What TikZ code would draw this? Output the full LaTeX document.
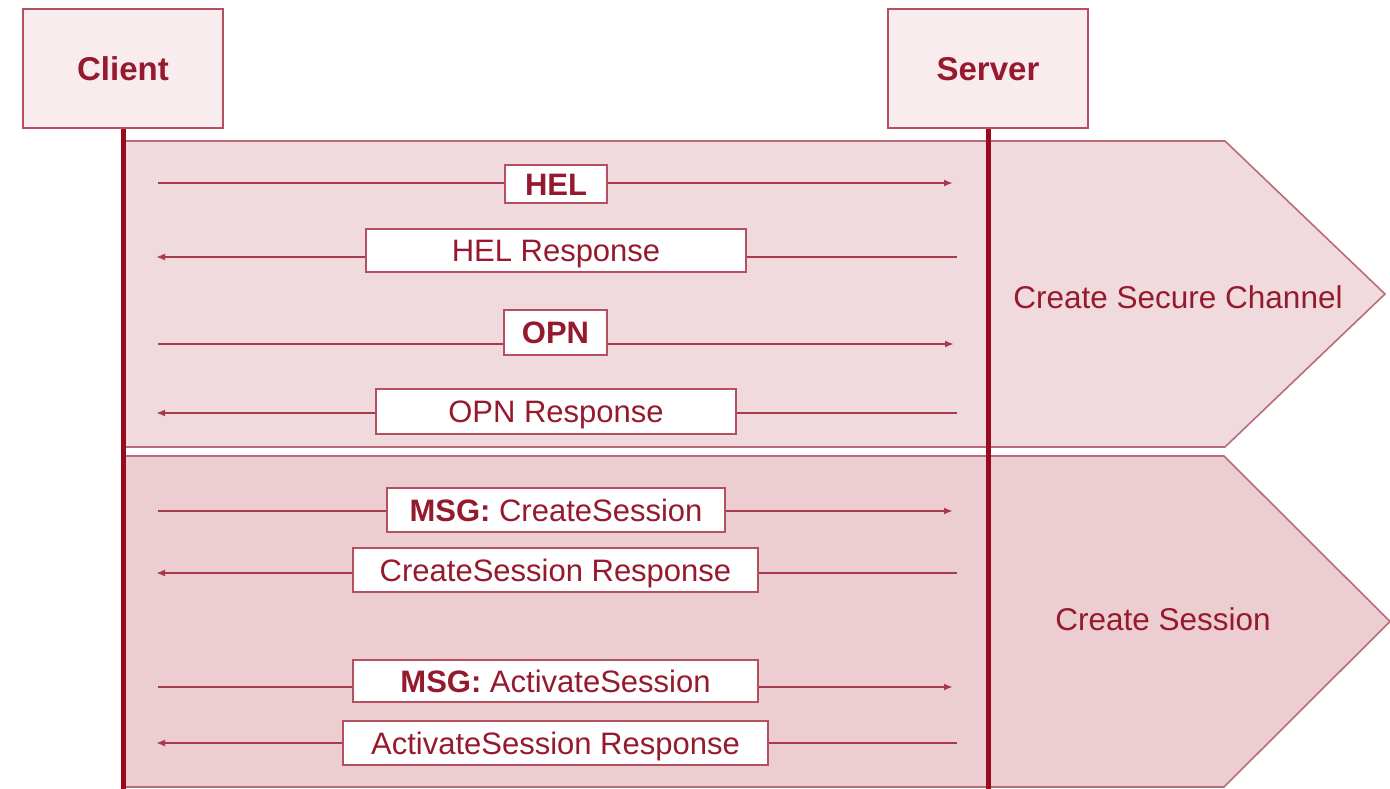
\documentclass[tikz,border=0pt]{standalone}
\usepackage{fontspec}
\setmainfont{Liberation Sans}
\usetikzlibrary{arrows.meta}

\definecolor{ink}{HTML}{961A2E}
\definecolor{life}{HTML}{9A0A1F}
\definecolor{wire}{HTML}{A83A4E}
\definecolor{edge}{HTML}{B4505F}
\definecolor{headfill}{HTML}{F9ECEE}
\definecolor{phaseA}{HTML}{F1DADE}
\definecolor{phaseB}{HTML}{ECCDD2}
\definecolor{phaseline}{HTML}{B86C78}

\tikzset{
  head/.style={draw=edge, line width=1.4pt, fill=headfill, minimum width=200pt,
    minimum height=119pt, inner sep=0pt, text=ink, text height=23.6pt, text depth=0pt,
    font=\fontsize{33}{38}\selectfont\bfseries},
  lifeline/.style={draw=life, line width=5pt},
  msgline/.style={draw=wire, line width=1.8pt},
  tohere/.style={msgline, -{Latex[length=9pt,width=7pt]}},
  label/.style={draw=edge, line width=1.8pt, fill=white, inner sep=0pt,
    text height=22.2pt, text depth=0pt,
    text=ink, font=\fontsize{31}{36}\selectfont},
  phase/.style={draw=phaseline, line width=1.6pt, line join=miter},
  phasetext/.style={text=ink, text height=22.5pt, text depth=0pt,
    font=\fontsize{31.5}{36}\selectfont},
}

\begin{document}
\begin{tikzpicture}[x=1pt, y=-1pt]
\useasboundingbox (0,0) rectangle (1390,789);

% phase chevrons
\path[phase, fill=phaseA] (125,141) -- (1225,141) -- (1385,294) -- (1225,447) -- (125,447) -- cycle;
\path[phase, fill=phaseB] (125,456) -- (1224,456) -- (1390,621.5) -- (1224,787) -- (125,787) -- cycle;

% participants and lifelines
\node[head] (client) at (123,68.5) {Client};
\node[head] (server) at (988,68.5) {Server};
\coordinate (clientEnd) at (123,789);
\coordinate (serverEnd) at (988,789);
\draw[lifeline] (client.south) -- (clientEnd);
\draw[lifeline] (server.south) -- (serverEnd);

% message end points
\coordinate (a1) at (158,183);   \coordinate (b1) at (953,183);
\coordinate (a2) at (156,257);   \coordinate (b2) at (957,257);
\coordinate (a3) at (158,344);   \coordinate (b3) at (954,344);
\coordinate (a4) at (156,413);   \coordinate (b4) at (957,413);
\coordinate (a5) at (158,511);   \coordinate (b5) at (953,511);
\coordinate (a6) at (156,573);   \coordinate (b6) at (957,573);
\coordinate (a7) at (158,687);   \coordinate (b7) at (953,687);
\coordinate (a8) at (156,743);   \coordinate (b8) at (957,743);

% messages
\draw[tohere] (a1) -- (b1);
\draw[tohere] (b2) -- (a2);
\draw[tohere] (a3) -- (b3);
\draw[tohere] (b4) -- (a4);
\draw[tohere] (a5) -- (b5);
\draw[tohere] (b6) -- (a6);
\draw[tohere] (a7) -- (b7);
\draw[tohere] (b8) -- (a8);

% message labels
\node[label, minimum width=102pt, minimum height=38pt] (hel) at (556,184) {\bfseries HEL};
\node[label, minimum width=380pt, minimum height=43pt] (helr) at (556,250.5) {HEL Response};
\node[label, minimum width=103pt, minimum height=45pt] (opn) at (555.5,332.5) {\bfseries OPN};
\node[label, minimum width=360pt, minimum height=45pt] (opnr) at (556,411.5) {OPN Response};
\node[label, minimum width=338pt, minimum height=44pt] (cs) at (556,510) {\textbf{MSG:} CreateSession};
\node[label, minimum width=405pt, minimum height=44pt] (csr) at (555.5,570) {CreateSession Response};
\node[label, minimum width=405pt, minimum height=42pt] (as) at (555.5,681) {\textbf{MSG:} ActivateSession};
\node[label, minimum width=425pt, minimum height=44pt] (asr) at (555.5,743) {ActivateSession Response};

% phase names
\node[phasetext] (chan) at (1178,297) {Create Secure Channel};
\node[phasetext] (sess) at (1163,619) {Create Session};
\end{tikzpicture}
\end{document}
